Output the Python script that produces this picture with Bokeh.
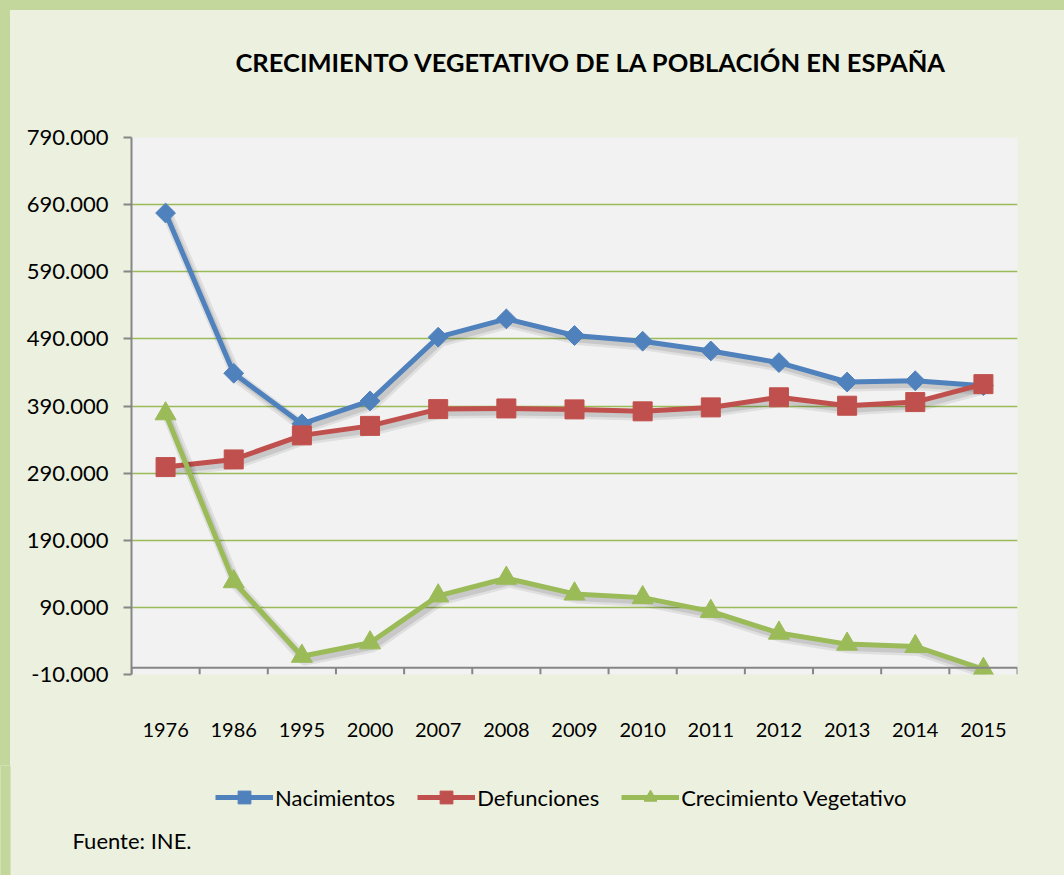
import numpy as np
from bokeh.plotting import figure
from bokeh.layouts import column
from bokeh.models import (Range1d, FixedTicker, CustomJSTickFormatter, Span,
                          Legend, LegendItem, Title, Label)
from bokeh.embed import file_html
from bokeh.resources import INLINE

# ---------------- data ----------------
years = ["1976", "1986", "1995", "2000", "2007", "2008", "2009",
         "2010", "2011", "2012", "2013", "2014", "2015"]
nacimientos = [677456, 438750, 363469, 397632, 492527, 519779, 494997,
               486575, 471999, 454648, 425715, 427595, 420290]
defunciones = [299007, 310413, 346227, 360391, 385361, 386324, 384933,
               382047, 387911, 402950, 390419, 395830, 422568]
crecimiento = [378449, 128337, 17242, 37241, 107166, 133455, 110064,
               104528, 84088, 51698, 35296, 31765, -2278]
y_ticks = list(range(-10000, 790001, 100000))

title_text = "CRECIMIENTO VEGETATIVO DE LA POBLACIÓN EN ESPAÑA"
source_text = "Fuente: INE."
series_names = ["Nacimientos", "Defunciones", "Crecimiento Vegetativo"]

# ---------------- layout ----------------
BW = 10                                   # css border width (top/left)
SPLIT = 765                               # page y where the legend strip starts
W = 1064 - BW
H1 = SPLIT - BW
H2 = 875 - SPLIT
FL, FR, FT, FB = 131 - BW, 1017 - BW, 137 - BW, 674 - BW
Y0, Y1 = -10000, 790000
N = len(years)
px_x = N / (FR - FL)
px_y = (Y1 - Y0) / (FB - FT)
xs = [i + 0.5 for i in range(N)]

OUTER = "#EBF1DE"
BORDER = "#C3D69B"
BLUE, RED, GREEN = "#4F81BD", "#C0504D", "#9BBB59"
AXIS = "#868686"
FONT = "Lato"

p = figure(width=W, height=H1, x_range=Range1d(0, N), y_range=Range1d(Y0, Y1),
           output_backend="svg", toolbar_location=None,
           min_border_left=FL, min_border_right=W - FR,
           min_border_top=FT, min_border_bottom=H1 - FB)
p.frame_align = False
p.background_fill_color = "#F2F2F2"
p.border_fill_color = OUTER
p.outline_line_color = None

# y axis
p.yaxis.ticker = FixedTicker(ticks=y_ticks)
p.yaxis.formatter = CustomJSTickFormatter(
    code=r"return tick.toFixed(0).replace(/\B(?=(\d{3})+(?!\d))/g, '.');")
p.yaxis.axis_line_color = AXIS
p.yaxis.axis_line_width = 2
p.yaxis.major_tick_line_color = AXIS
p.yaxis.major_tick_line_width = 2
p.yaxis.major_tick_out = 8
p.yaxis.major_tick_in = 0
p.yaxis.minor_tick_line_color = None
p.yaxis.major_label_text_font = FONT
p.yaxis.major_label_text_font_size = "22px"
p.yaxis.major_label_text_color = "#000000"
p.yaxis.major_label_standoff = 15

# x axis (labels only; axis line drawn at y=0)
p.xaxis.ticker = FixedTicker(ticks=xs)
p.xaxis.major_label_overrides = {x: y for x, y in zip(xs, years)}
p.xaxis.axis_line_color = None
p.xaxis.major_tick_line_color = None
p.xaxis.minor_tick_line_color = None
p.xaxis.major_label_text_font = FONT
p.xaxis.major_label_text_font_size = "20px"
p.xaxis.major_label_text_color = "#000000"
p.xaxis.major_label_standoff = 42

p.xgrid.grid_line_color = None
p.ygrid.grid_line_color = GREEN
p.ygrid.grid_line_width = 1.5

# category axis at zero
p.add_layout(Span(location=0, dimension="width", line_color=AXIS, line_width=2))
bounds = list(range(N + 1))
p.segment(x0=bounds, y0=[0] * len(bounds), x1=bounds, y1=[Y0] * len(bounds),
          line_color=AXIS, line_width=2)

# series
sdx = 3 * px_x
sdy = 4 * px_y
styles = [
    (nacimientos, BLUE, "square", 14, np.pi / 4),
    (defunciones, RED, "square", 19, 0.0),
    (crecimiento, GREEN, "triangle", 21, 0.0),
]
for vals, col, mk, sz, ang in styles:
    p.line([x + sdx for x in xs], [v - sdy for v in vals], line_color="#000000",
           line_alpha=0.08, line_width=11, line_join="round")
    p.line([x + sdx for x in xs], [v - sdy for v in vals], line_color="#000000",
           line_alpha=0.10, line_width=6, line_join="round")
    p.line(xs, vals, line_color=col, line_width=5, line_join="round")
    p.scatter(xs, vals, marker=mk, size=sz, angle=ang, fill_color=col,
              line_color=col, line_width=1)

# title (a blank spacer keeps it at its height above the plot area)
p.add_layout(Title(text=" ", text_font_size="12px", standoff=44), "above")
p.add_layout(Title(text=title_text, text_font=FONT, text_font_size="25.5px",
                   text_font_style="bold", text_color="#000000",
                   align="left", offset=(235 - BW) - FL, standoff=0,
                   vertical_align="middle"), "above")

# ---------------- legend strip (full page width, pixel ranges) ----------------
WQ = 1064
q = figure(width=WQ, height=H2, x_range=Range1d(0, WQ), y_range=Range1d(H2, 0),
           x_axis_type=None, y_axis_type=None, output_backend="svg",
           toolbar_location=None, min_border=0)
q.frame_align = False
q.background_fill_color = OUTER
q.border_fill_color = OUTER
q.outline_line_color = None
q.xgrid.grid_line_color = None
q.ygrid.grid_line_color = None
q.styles = {"transform": f"translateX(-{BW}px)"}

# left border strip continues down the page
q.quad(left=[0], right=[BW], bottom=[H2], top=[0], fill_color=BORDER,
       line_color=None)

# legend entries: the same series, placed left of this strip's view
items = []
for name, (vals, col, mk, sz, ang) in zip(series_names, styles):
    ln = q.line([-x for x in xs], vals, line_color=col, line_width=5)
    sc = q.scatter([-x for x in xs], vals, marker=mk, size=sz * 0.8, angle=ang,
                   fill_color=col, line_color=col, line_width=1)
    items.append(LegendItem(label=name, renderers=[ln, sc]))

legend = Legend(items=items, orientation="horizontal",
                location=(215, H2 - (781 - SPLIT) - 32))
legend.background_fill_alpha = 0
legend.border_line_color = None
legend.padding = 0
legend.margin = 0
legend.spacing = 22
legend.glyph_width = 58
legend.glyph_height = 32
legend.label_height = 32
legend.label_standoff = 2
legend.label_text_font = FONT
legend.label_text_font_size = "22px"
legend.label_text_color = "#000000"
q.add_layout(legend)

q.add_layout(Label(x=72, y=840 - SPLIT, text=source_text, text_font=FONT,
                   text_font_size="22px", text_align="left",
                   text_baseline="middle", text_color="#000000"))

layout = column(p, q, spacing=0)
layout.styles = {"border-top": f"{BW}px solid {BORDER}",
                 "border-left": f"{BW}px solid {BORDER}",
                 "background-color": OUTER}
open("out.html", "w").write(file_html(layout, INLINE))
